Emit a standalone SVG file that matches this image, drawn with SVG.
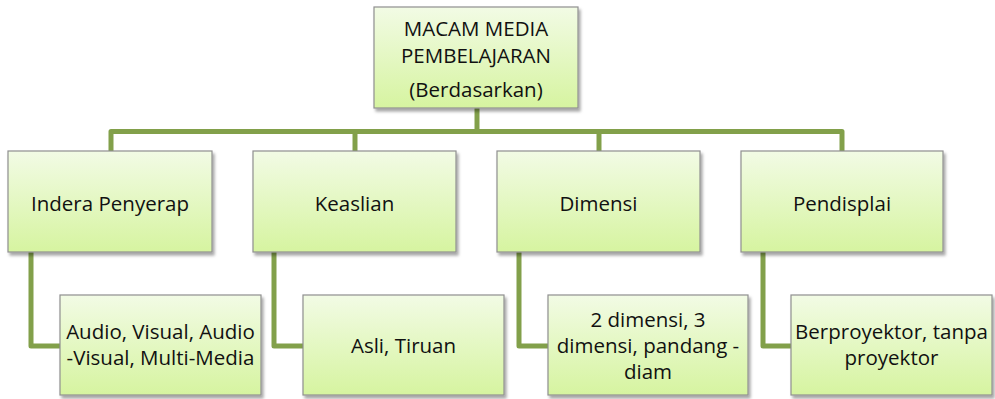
<svg xmlns="http://www.w3.org/2000/svg" width="995" height="399" viewBox="0 0 995 399">
<defs>
<linearGradient id="g" x1="0" y1="0" x2="0" y2="1">
<stop offset="0" stop-color="#f2fbe5"/>
<stop offset="1" stop-color="#d6f4a0"/>
</linearGradient>
<filter id="sh" x="-10%" y="-10%" width="125%" height="130%">
<feDropShadow dx="2" dy="3" stdDeviation="1.8" flood-color="#000" flood-opacity="0.35"/>
</filter>
</defs>
<style>
.box{fill:url(#g);stroke:#8f8f8f;stroke-width:1.2;filter:url(#sh)}
.t{font-family:"Open Sans","Liberation Sans",sans-serif;font-size:20.5px;fill:#111;text-anchor:middle}
.c{fill:none;stroke:#82a04a;stroke-width:5;stroke-linejoin:round}
</style>
<rect width="995" height="399" fill="#fff"/>
<g id="connectors">
<path class="c" d="M111,152 V131.5 H842 V152"/>
<path class="c" d="M477,108 V131.5"/>
<path class="c" d="M355,131.5 V152"/>
<path class="c" d="M599,131.5 V152"/>
<path class="c" d="M31,252 V346 H61"/>
<path class="c" d="M274,252 V346 H304"/>
<path class="c" d="M519,252 V346 H549"/>
<path class="c" d="M763,252 V346 H792"/>
</g>
<g id="root">
<rect class="box" x="374" y="7" width="204" height="101"/>
<text class="t" x="476" y="36">MACAM MEDIA</text>
<text class="t" x="476" y="62.5">PEMBELAJARAN</text>
<text class="t" x="476" y="96.5">(Berdasarkan)</text>
</g>
<g id="indera">
<rect class="box" x="8" y="151" width="204" height="101"/>
<text class="t" x="110" y="210.5">Indera Penyerap</text>
</g>
<g id="keaslian">
<rect class="box" x="253" y="151" width="203" height="101"/>
<text class="t" x="354.5" y="210.5">Keaslian</text>
</g>
<g id="dimensi">
<rect class="box" x="497" y="151" width="203" height="101"/>
<text class="t" x="598.5" y="210.5">Dimensi</text>
</g>
<g id="pendisplai">
<rect class="box" x="741" y="151" width="202" height="101"/>
<text class="t" x="842" y="210.5">Pendisplai</text>
</g>
<g id="audio">
<rect class="box" x="60" y="295" width="201" height="100"/>
<text class="t" x="160.5" y="339">Audio, Visual, Audio</text>
<text class="t" x="160.5" y="365">-Visual, Multi-Media</text>
</g>
<g id="asli">
<rect class="box" x="303" y="295" width="201" height="100"/>
<text class="t" x="403.5" y="353">Asli, Tiruan</text>
</g>
<g id="duadimensi">
<rect class="box" x="548" y="295" width="200" height="100"/>
<text class="t" x="648" y="327">2 dimensi, 3</text>
<text class="t" x="648" y="353">dimensi, pandang -</text>
<text class="t" x="648" y="379">diam</text>
</g>
<g id="proyektor">
<rect class="box" x="791" y="295" width="201" height="100"/>
<text class="t" x="891.5" y="339">Berproyektor, tanpa</text>
<text class="t" x="891.5" y="365">proyektor</text>
</g>
</svg>
